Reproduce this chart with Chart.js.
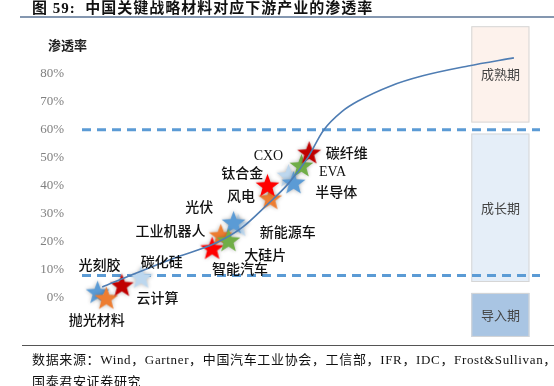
<!DOCTYPE html>
<html>
<head>
<meta charset="utf-8">
<script src="https://cdn.jsdelivr.net/npm/chart.js@4/dist/chart.umd.min.js"></script>
<style>
  body { margin: 0; width: 554px; height: 386px; overflow: hidden; background: #fff; position: relative; }
  canvas { position: absolute; left: 0; top: 0; }
  .title { position: absolute; left: 32px; top: -4px; font: bold 15px "Liberation Serif", "Noto Sans CJK SC"; color: #111; white-space: nowrap; letter-spacing: 1px; }
  .rule1 { position: absolute; left: 20px; right: 0; top: 16px; border-top: 2px solid #8497b0; }
  .ytitle { position: absolute; left: 48px; top: 35px; font: bold 13px "Noto Sans CJK SC"; color: #222; }
  .rule2 { position: absolute; left: 22px; right: 0; top: 345px; border-top: 1px solid #555; }
  .src { position: absolute; left: 32px; top: 349px; font: 13px "Liberation Serif", "Noto Sans CJK SC"; color: #111; white-space: nowrap; line-height: 22px; letter-spacing: 0.65px; }
</style>
</head>
<body>
<canvas id="myChart" width="554" height="386"></canvas>
<div class="title">图 59:&nbsp; 中国关键战略材料对应下游产业的渗透率</div>
<div class="rule1"></div>
<div class="ytitle">渗透率</div>
<div class="rule2"></div>
<div class="src">数据来源：Wind，Gartner，中国汽车工业协会，工信部，IFR，IDC，Frost&amp;Sullivan，<br>国泰君安证券研究</div>
<script>
const yTicks = [0, 10, 20, 30, 40, 50, 60, 70, 80];

// penetration curve
const curveX = [4.4, 12.3, 20.8, 29.2, 35.0, 40.3, 45.1, 49.3, 52.7, 56.8, 60.4, 67.4, 74.4, 84.3, 94.3];
const curveY = [3.9, 9.2, 14.6, 19.6, 25.2, 33.1, 40.9, 50.1, 59.8, 66.6, 70.4, 75.7, 79.3, 82.8, 85.7];

// stars
const starX = [3.4, 5.3, 8.7, 12.9, 34.1, 33.1, 30.3, 28.4, 32.0, 41.1, 40.5, 45.1, 46.2, 47.9, 49.6];
const starY = [2.1, 0.0, 4.6, 7.5, 26.0, 27.0, 22.4, 17.8, 20.6, 35.6, 40.2, 43.7, 41.2, 47.3, 51.9];
const starColors = ["#5b9bd5", "#ed7d31", "#c00000", "#bdd7ee", "#bdd7ee", "#5b9bd5", "#ed7d31", "#ff0000", "#70ad47",
                    "#ed7d31", "#ff0000", "#bdd7ee", "#5b9bd5", "#70ad47", "#c00000"];

// industry labels
const labelText = ["光刻胶", "碳化硅", "云计算", "抛光材料", "工业机器人", "光伏", "智能汽车", "大硅片", "新能源车",
                   "风电", "钛合金", "CXO", "碳纤维", "EVA", "半导体"];
const labelX = [3.8, 17.4, 16.5, 3.2, 19.3, 25.6, 34.5, 40.0, 44.9, 34.7, 35.0, 40.7, 57.8, 54.7, 55.5];
const labelY = [11.4, 12.4, -0.4, -8.2, 23.5, 32.0, 10.0, 14.9, 23.1, 35.9, 44.1, 50.5, 51.2, 44.8, 37.3];

// stages
const stageNames = ["成熟期", "成长期", "导入期"];
const stageLow = [62.6, 5.7, -13.9];
const stageHigh = [97.0, 58.7, 1.8];
const stageFill = ["#fdf2ec", "#e5eef8", "#a9c5e3"];
const stageLeft = 85.0, stageRight = 97.7;

// split lines
const splitLevels = [60, 8];

function makeStar(color, R) {
  const c = document.createElement("canvas");
  const s = Math.ceil(R * 2 + 10);
  c.width = s; c.height = s;
  const g = c.getContext("2d");
  g.translate(s / 2, s / 2 + 1);
  g.beginPath();
  for (let i = 0; i < 10; i++) {
    const r = i % 2 === 0 ? R : R * 0.42;
    const a = -Math.PI / 2 + i * Math.PI / 5;
    g.lineTo(r * Math.cos(a), r * Math.sin(a));
  }
  g.closePath();
  g.shadowColor = "rgba(0,0,0,0.3)";
  g.shadowBlur = 4;
  g.fillStyle = color;
  g.fill();
  return c;
}

const stagePlugin = {
  id: "stages",
  beforeDatasetsDraw(chart) {
    const { ctx, scales: { x, y } } = chart;
    ctx.save();
    stageNames.forEach((name, i) => {
      const l = x.getPixelForValue(stageLeft), r = x.getPixelForValue(stageRight);
      const t = y.getPixelForValue(stageHigh[i]), b = y.getPixelForValue(stageLow[i]);
      ctx.fillStyle = stageFill[i];
      ctx.fillRect(l, t, r - l, b - t);
      ctx.strokeStyle = "#d6d6d6";
      ctx.lineWidth = 1;
      ctx.strokeRect(l + 0.5, t + 0.5, r - l - 1, b - t - 1);
      ctx.fillStyle = "#444";
      ctx.font = '13px "Noto Sans CJK SC"';
      ctx.textAlign = "center";
      ctx.textBaseline = "middle";
      ctx.fillText(name, (l + r) / 2, (t + b) / 2);
    });
    ctx.restore();
  },
  afterDatasetsDraw(chart) {
    const { ctx, scales: { x, y } } = chart;
    ctx.save();
    ctx.fillStyle = "#111";
    ctx.font = '500 14px "Liberation Serif", "Noto Sans CJK SC"';
    ctx.textAlign = "center";
    ctx.textBaseline = "middle";
    labelText.forEach((t, i) => {
      ctx.fillText(t, x.getPixelForValue(labelX[i]), y.getPixelForValue(labelY[i]));
    });
    ctx.restore();
  }
};

new Chart("myChart", {
  type: "scatter",
  data: {
    datasets: [{
      type: "line",
      data: curveX.map((v, i) => ({ x: v, y: curveY[i] })),
      borderColor: "#4f7db3",
      borderWidth: 1.6,
      pointRadius: 0,
      cubicInterpolationMode: "monotone",
      fill: false,
      order: 0
    }, {
      data: starX.map((v, i) => ({ x: v, y: starY[i] })),
      pointStyle: starColors.map(c => makeStar(c, 12.5)),
      pointRadius: 13,
      order: 1
    }].concat(splitLevels.map(v => ({
      type: "line",
      data: [{ x: 0, y: v }, { x: 100, y: v }],
      borderColor: "#5b9bd5",
      borderWidth: 3,
      borderDash: [9, 6],
      pointRadius: 0,
      fill: false,
      order: 2
    })))
  },
  options: {
    responsive: false,
    animation: false,
    layout: { padding: { top: 17, bottom: 46, left: 0, right: 0 } },
    scales: {
      x: { type: "linear", min: 0, max: 100, display: false },
      y: {
        min: -15, max: 100,
        afterBuildTicks: s => { s.ticks = yTicks.map(v => ({ value: v })); },
        afterFit: s => { s.width = 82; },
        grid: { display: false },
        border: { display: false },
        ticks: {
          callback: v => v + "%",
          color: "#808080",
          padding: 10,
          font: { family: "Liberation Serif", size: 13 }
        }
      }
    },
    plugins: {
      legend: { display: false },
      tooltip: { enabled: false }
    }
  },
  plugins: [stagePlugin]
});
</script>
</body>
</html>
